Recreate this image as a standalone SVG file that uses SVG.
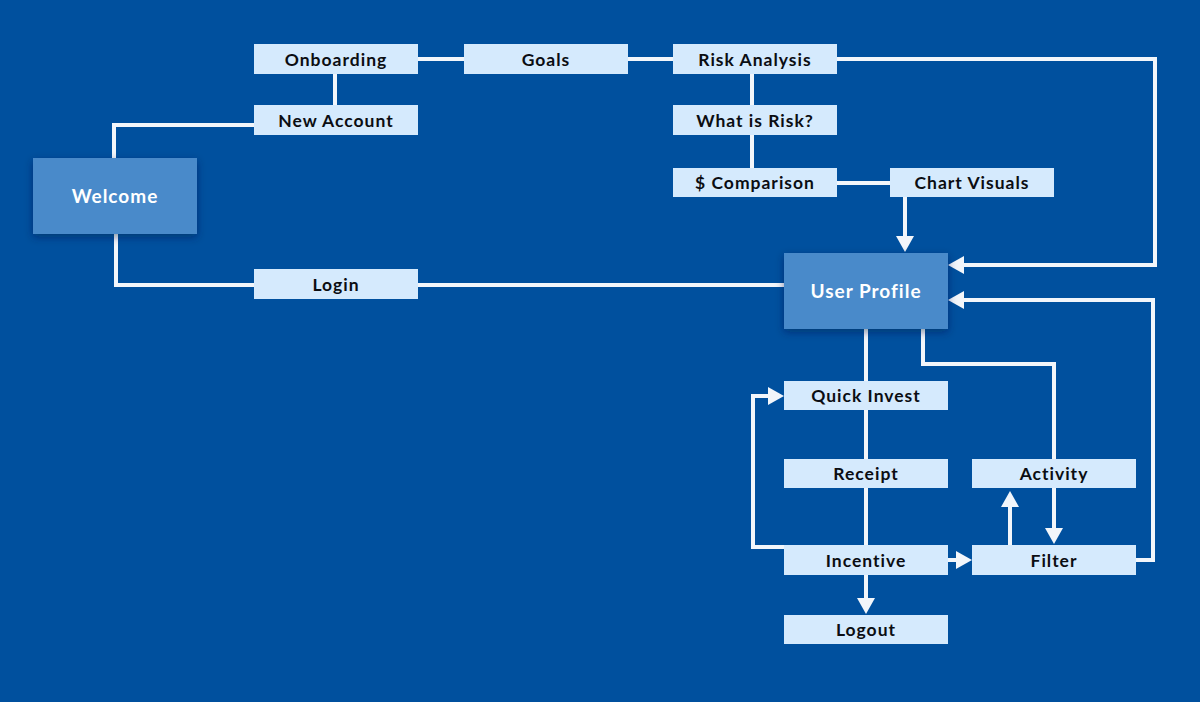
<svg xmlns="http://www.w3.org/2000/svg" width="1200" height="702" viewBox="0 0 1200 702">
<defs>
<style>
.bg{fill:#00509E}
.lt{fill:#D5EAFD}
.dk{fill:#4A8ACA}
.t{font-family:Lato,"Open Sans","Liberation Sans",sans-serif;font-weight:700;font-size:17.5px;fill:#0B0D12;text-anchor:middle;letter-spacing:1px}
.tw{font-family:Lato,"Open Sans","Liberation Sans",sans-serif;font-weight:700;font-size:19px;fill:#FFFFFF;text-anchor:middle;letter-spacing:1px}
.c{fill:none;stroke:#F2F6FB;stroke-width:4}
.ca{fill:none;stroke:#F2F6FB;stroke-width:4;marker-end:url(#ah)}
</style>
<marker id="ah" markerUnits="userSpaceOnUse" viewBox="0 -9 16 18" markerWidth="16" markerHeight="18" refX="0" refY="0" orient="auto">
<path d="M0,-9 L16,0 L0,9 Z" fill="#F2F6FB"/>
</marker>
<filter id="sh" x="-20%" y="-20%" width="140%" height="150%">
<feDropShadow dx="0" dy="3" stdDeviation="4" flood-color="#001a40" flood-opacity="0.45"/>
</filter>
</defs>
<rect class="bg" x="0" y="0" width="1200" height="702"/>
<g id="connectors">
<path class="c" d="M114,158 V125 H254"/>
<path class="c" d="M116,234 V285 H254"/>
<path class="c" d="M335,74 V105"/>
<path class="c" d="M418,59 H464"/>
<path class="c" d="M628,59 H673"/>
<path class="c" d="M752,74 V105"/>
<path class="c" d="M752,135 V168"/>
<path class="c" d="M837,183 H890"/>
<path class="ca" d="M905,197 V236"/>
<path class="ca" d="M837,59 H1155 V265 H964"/>
<path class="c" d="M418,285 H784"/>
<path class="c" d="M866,329 V381"/>
<path class="c" d="M866,410 V459"/>
<path class="c" d="M866,488 V545"/>
<path class="ca" d="M866,575 V598"/>
<path class="ca" d="M784,547 H753 V396 H768"/>
<path class="c" d="M923,329 V364 H1054 V459"/>
<path class="ca" d="M1054,488 V528"/>
<path class="ca" d="M1010,545 V507"/>
<path class="ca" d="M948,560 H956"/>
<path class="ca" d="M1136,560 H1153 V300 H964"/>
</g>
<g id="welcome"><rect class="dk" x="33" y="158" width="164" height="76" filter="url(#sh)"/><text class="tw" x="115" y="203">Welcome</text></g>
<g id="onboarding"><rect class="lt" x="254" y="44" width="164" height="30"/><text class="t" x="336" y="65.5">Onboarding</text></g>
<g id="new-account"><rect class="lt" x="254" y="105" width="164" height="30"/><text class="t" x="336" y="126.5">New Account</text></g>
<g id="login"><rect class="lt" x="254" y="269" width="164" height="30"/><text class="t" x="336" y="290.5">Login</text></g>
<g id="goals"><rect class="lt" x="464" y="44" width="164" height="30"/><text class="t" x="546" y="65.5">Goals</text></g>
<g id="risk-analysis"><rect class="lt" x="673" y="44" width="164" height="30"/><text class="t" x="755" y="65.5">Risk Analysis</text></g>
<g id="what-is-risk"><rect class="lt" x="673" y="105" width="164" height="30"/><text class="t" x="755" y="126.5">What is Risk?</text></g>
<g id="comparison"><rect class="lt" x="673" y="168" width="164" height="29"/><text class="t" x="755" y="189">$ Comparison</text></g>
<g id="chart-visuals"><rect class="lt" x="890" y="168" width="164" height="29"/><text class="t" x="972" y="189">Chart Visuals</text></g>
<g id="user-profile"><rect class="dk" x="784" y="253" width="164" height="76" filter="url(#sh)"/><text class="tw" x="866" y="298">User Profile</text></g>
<g id="quick-invest"><rect class="lt" x="784" y="381" width="164" height="29"/><text class="t" x="866" y="402">Quick Invest</text></g>
<g id="receipt"><rect class="lt" x="784" y="459" width="164" height="29"/><text class="t" x="866" y="480">Receipt</text></g>
<g id="incentive"><rect class="lt" x="784" y="545" width="164" height="30"/><text class="t" x="866" y="566.5">Incentive</text></g>
<g id="logout"><rect class="lt" x="784" y="615" width="164" height="29"/><text class="t" x="866" y="636">Logout</text></g>
<g id="activity"><rect class="lt" x="972" y="459" width="164" height="29"/><text class="t" x="1054" y="480">Activity</text></g>
<g id="filter"><rect class="lt" x="972" y="545" width="164" height="30"/><text class="t" x="1054" y="566.5">Filter</text></g>
</svg>
